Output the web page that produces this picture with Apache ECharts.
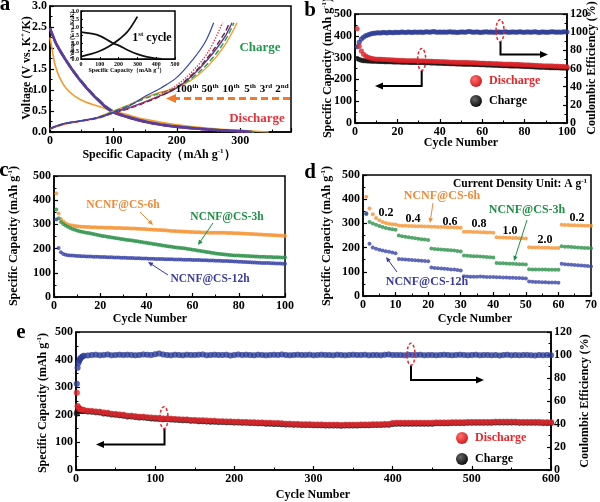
<!DOCTYPE html>
<html><head><meta charset="utf-8">
<script src="https://cdn.jsdelivr.net/npm/echarts@6/dist/echarts.min.js"></script>
<style>html,body{margin:0;padding:0;background:#fff}#c{width:600px;height:502px}</style>
</head><body><div id="c"></div>
<script>
// ---------- Panel a : voltage profiles [capacity, voltage] ----------
const aChg2nd = [[0,0.06],[10,0.12],[25,0.19],[50,0.26],[75,0.35],[100,0.5],[125,0.65],[150,0.82],[175,0.95],[200,1.06],[225,1.26],[250,1.58],[275,2.05],[295,2.6]];
const aChg3rd = [[0,0.07],[10,0.13],[25,0.2],[50,0.27],[75,0.35],[100,0.49],[125,0.64],[150,0.8],[175,0.93],[200,1.06],[225,1.3],[250,1.65],[275,2.15],[290,2.6]];
const aChg5th = [[0,0.08],[10,0.14],[25,0.21],[50,0.27],[75,0.34],[100,0.46],[125,0.58],[150,0.72],[175,0.87],[200,1.05],[225,1.35],[250,1.75],[275,2.25],[287,2.6]];
const aChg10th = [[0,0.08],[10,0.14],[25,0.2],[50,0.26],[75,0.33],[100,0.45],[125,0.56],[150,0.7],[175,0.86],[200,1.06],[225,1.38],[250,1.8],[275,2.35],[283,2.6]];
const aChg50th = [[0,0.08],[10,0.14],[25,0.2],[50,0.26],[75,0.33],[100,0.45],[125,0.57],[150,0.72],[175,0.9],[200,1.12],[225,1.45],[250,1.92],[272,2.6]];
const aChg100th = [[0,0.09],[10,0.15],[25,0.21],[50,0.27],[75,0.34],[100,0.47],[125,0.62],[150,0.85],[175,1.05],[200,1.3],[225,1.72],[245,2.15],[258,2.6]];
const aDis2nd = [[0,2.25],[3,2.0],[8,1.6],[15,1.3],[25,1.05],[40,0.84],[55,0.72],[75,0.62],[100,0.5],[125,0.4],[150,0.3],[200,0.17],[250,0.09],[300,0.04],[345,0.0]];
const aDis3rd = [[0,2.45],[5,2.27],[10,2.1],[24,1.75],[40,1.4],[55,1.12],[75,0.8],[97,0.52],[125,0.36],[150,0.26],[175,0.19],[200,0.14],[250,0.07],[300,0.02],[325,0.0]];
const aDis5th = [[0,2.48],[5,2.28],[10,2.1],[24,1.74],[40,1.38],[55,1.1],[75,0.78],[97,0.5],[125,0.35],[150,0.25],[175,0.18],[200,0.13],[250,0.06],[300,0.02],[318,0.0]];
const aDis10th = [[0,2.47],[5,2.27],[10,2.09],[24,1.73],[40,1.38],[55,1.1],[75,0.78],[97,0.49],[125,0.34],[150,0.24],[175,0.17],[200,0.12],[250,0.06],[295,0.02],[312,0.0]];
const aDis50th = [[0,2.46],[5,2.26],[10,2.08],[24,1.72],[40,1.37],[55,1.09],[75,0.77],[97,0.49],[125,0.34],[150,0.24],[175,0.17],[200,0.12],[250,0.05],[290,0.02],[305,0.0]];
const aDis100th = [[0,2.45],[5,2.25],[10,2.07],[24,1.71],[40,1.36],[55,1.08],[75,0.76],[97,0.48],[125,0.33],[150,0.23],[175,0.16],[200,0.11],[250,0.05],[285,0.02],[300,0.0]];
const inChg1st = [[0,0.15],[50,0.3],[100,0.5],[150,0.8],[200,1.2],[250,1.75],[300,2.65]];
const inDis1st = [[0,1.68],[50,1.6],[100,1.45],[168,1.0],[200,0.85],[250,0.55],[300,0.3],[350,0.13],[400,0.04],[430,0.0]];

// ---------- Panel b : 100 cycles ----------
const bDischarge = [432,352,330,315,307,302,298,296,294,293,
292,292,291,291,290,290,289,289,288,288,
287,287,287,286,286,286,285,285,285,284,
284,284,284,283,283,283,282,282,282,281,
281,281,280,280,279,279,279,278,278,278,
277,277,277,276,276,276,275,275,274,274,
274,273,273,273,272,272,272,271,271,270,
270,270,269,269,268,268,268,267,267,266,
266,266,265,265,264,264,263,263,262,262,
262,261,261,260,260,260,259,259,258,258];
const bCharge = [296,291,288,286,285,284,284,283,283,283,
282,282,282,281,281,281,281,280,280,280,
280,279,279,279,279,278,278,278,277,277,
277,277,276,276,276,275,275,275,274,274,
274,273,273,273,272,272,272,271,271,271,
270,270,270,269,269,268,268,268,267,267,
267,266,266,266,265,265,265,264,264,263,
263,263,262,262,261,261,261,260,260,259,
259,259,258,258,257,257,256,256,256,255,
255,254,254,254,253,253,252,252,252,251];
const bCE = [84,89,92.5,94.5,96,97,97.8,98.4,98.8,99.1,
99.3,99.1,99.5,99.6,99.2,99.8,99.5,99.4,99.9,99.6,
99.7,100.2,99.8,99.5,100.1,99.9,99.6,100.3,100,99.8,
100.2,99.7,100.1,100.4,99.9,100.3,100.6,100.1,99.8,100.2,
100,100.3,99.8,100.1,100.5,99.9,100.2,99.7,100,100.3,
100.1,99.8,100.4,100.6,100.2,99.9,100.1,100.3,99.7,100,
100.2,100.4,99.9,100.1,99.8,100,100.3,100.1,99.9,100.2,
100.4,100,99.8,100.2,100.1,99.9,100.3,100.5,100,99.8,
100.1,100.3,99.9,100.2,100.4,100,99.7,100.1,100.3,100,
99.8,100.2,100.4,100.1,99.9,100.3,100,100.2,100.5,100.1];

// ---------- Panel c : 100 cycles ----------
const c6h = [428,345,322,312,305,300,297,295,293,292,
291,290,290,289,289,288,288,288,287,287,
287,286,286,286,286,285,285,285,285,284,
284,284,283,283,283,282,282,281,281,280,
279,279,278,278,277,277,276,276,275,274,
273,273,272,272,271,271,270,270,269,269,
268,268,268,267,267,267,266,266,266,266,
266,265,265,265,264,264,264,263,263,263,
262,262,261,261,260,260,259,259,258,258,
257,257,256,256,255,255,254,254,253,253];
const c3h = [362,325,310,302,295,290,285,281,278,275,
272,270,268,266,264,262,260,258,256,254,
252,251,249,248,246,245,243,242,240,239,
237,236,234,233,231,230,228,227,225,224,
222,221,219,218,216,215,213,212,210,209,
208,206,205,204,202,201,200,198,197,195,
194,192,191,189,188,186,185,183,182,180,
179,178,177,176,175,174,173,172,171,171,
170,170,169,169,168,168,167,167,166,166,
166,165,165,165,164,164,164,163,163,163];
const c12h = [320,202,185,178,175,173,172,171,170,169,
169,168,168,167,167,167,166,166,166,165,
165,165,164,164,164,163,163,163,162,162,
162,161,161,161,160,160,160,159,159,159,
158,158,158,157,157,157,157,156,156,156,
156,155,155,155,155,154,154,154,154,153,
153,153,153,152,152,152,151,151,151,150,
150,150,149,149,149,148,148,147,147,146,
146,145,145,144,144,143,143,142,142,141,
141,140,140,139,139,138,138,138,137,137];

// ---------- Panel d : rate test, 70 cycles ----------
const d6h = [410,362,338,322,313,306,302,299,297,295,
291,290,290,289,289,288,288,288,287,287,
286,286,285,285,285,284,284,283,283,282,
266,265,265,264,264,263,263,262,262,261,
243,242,242,241,241,240,240,239,239,238,
201,200,200,200,199,199,199,198,198,198,
294,293,293,292,292,291,291,290,290,290];
const d3h = [338,306,300,294,289,285,281,278,276,274,
250,247,245,243,241,239,237,235,233,231,
196,194,193,192,191,190,189,188,186,184,
167,166,165,164,164,163,162,161,160,159,
136,135,135,134,133,133,132,131,131,130,
111,110,110,109,109,109,108,108,108,108,
206,204,203,202,201,200,199,198,198,197];
const d12h = [342,216,200,195,191,188,185,183,180,177,
153,152,151,150,149,148,147,146,145,144,
118,116,115,114,113,112,110,109,107,105,
82,81,80,80,80,81,80,79,79,78,
77,77,76,76,75,75,74,74,73,72,
60,59,58,58,57,57,56,56,56,55,
133,131,130,129,128,127,126,125,124,122];
const dRateLabels = ['0.2','0.4','0.6','0.8','1.0','2.0','0.2'];

// ---------- Panel e : 600 cycles (sampled) ----------
const eCycles = [1,2,3,4,5,6,8,10,
15,20,25,30,35,40,45,50,55,60,65,70,75,80,85,90,95,100,105,110,
115,120,125,130,135,140,145,150,155,160,165,170,175,180,185,190,195,200,205,210,
215,220,225,230,235,240,245,250,255,260,265,270,275,280,285,290,295,300,305,310,
315,320,325,330,335,340,345,350,355,360,365,370,375,380,385,390,395,400,405,410,
415,420,425,430,435,440,445,450,455,460,465,470,475,480,485,490,495,500,505,510,
515,520,525,530,535,540,545,550,555,560,565,570,575,580,585,590,595,600];
const eDischarge = [280,232,226,222,220,219,218,217,
215,214,212,211,208,207,204,203,201,200,
197,197,195,193,193,191,190,189,188,187,
187,186,185,184,183,183,181,181,180,180,
179,178,178,177,177,176,176,175,175,174,
174,173,173,172,172,171,171,170,170,169,
168,168,167,167,166,166,166,165,165,165,
164,164,164,164,163,164,164,164,164,165,
165,165,166,166,166,167,167,170,171,171,
171,171,171,171,171,171,171,171,172,172,
172,172,173,173,173,173,174,174,174,174,
174,174,174,175,175,175,175,175,175,174,
174,174,174,174,174,173,173,173];
const eCharge = [205,214,216,217,216,215,214,214,
212,211,209,208,205,204,201,200,198,197,
194,194,192,190,190,188,187,186,185,184,
184,183,182,181,180,180,178,178,177,177,
176,175,175,174,174,173,173,172,172,171,
171,170,170,169,169,168,168,167,167,166,
165,165,164,164,163,163,163,162,162,162,
161,161,161,161,160,161,161,161,161,162,
162,162,163,163,163,164,164,167,168,168,
168,168,168,168,168,168,168,168,169,169,
169,169,170,170,170,170,171,171,171,171,
171,171,171,172,172,172,172,172,172,171,
171,171,171,171,171,170,170,170];
const eCE = [75,89,93,95,96.5,97.5,98.6,99.3,
99.6,99.9,100.3,99.8,100.1,100.4,99.7,100.0,100.2,99.9,
100.3,100.1,99.8,100.0,100.4,100.2,99.9,100.6,101.2,100.4,
100.0,99.8,100.2,100.1,99.7,100.3,100.0,99.9,100.2,100.5,
99.8,100.1,100.3,99.9,100.0,100.2,99.6,100.1,100.4,99.9,
100.2,100.0,99.8,100.3,100.1,99.7,100.0,100.2,99.9,100.4,
100.1,99.8,100.0,100.3,99.9,100.1,100.2,99.7,100.0,100.3,
99.9,100.1,99.8,100.2,100.0,99.7,100.1,100.3,99.9,100.0,
100.2,99.8,100.1,100.0,99.7,100.2,100.4,99.9,100.0,100.1,
99.8,100.3,100.0,99.9,100.2,99.8,100.1,100.0,99.7,99.9,
100.2,100.0,99.8,100.1,100.3,99.9,99.8,100.0,100.2,99.7,
99.9,100.1,99.8,100.0,99.6,99.9,100.2,99.8,100.0,99.7,
99.9,100.1,99.8,99.6,100.0,99.8,99.9,99.7];

// ---------- styling ----------
const F = "'Liberation Serif','Times New Roman',serif";
const RED = '#e8262a', BLK = '#151515', BLUE = '#2e3f9e';
const ORG = '#f5922f', GRN = '#2a9148', BLU2 = '#3a45a8';

function ax(gridIndex, min, max, interval, o) {
  o = o || {};
  return Object.assign({
    type: 'value', gridIndex, min, max, interval,
    axisLine: {show: true, onZero: false, lineStyle: {color: '#000', width: 1.5}},
    axisTick: {show: true, inside: true, length: 4, lineStyle: {color: '#000', width: 1.2}},
    minorTick: {show: o.minor !== false, splitNumber: 2, length: 2.5, lineStyle: {color: '#000', width: 1}},
    splitLine: {show: false},
    axisLabel: Object.assign({fontFamily: F, fontWeight: 'bold', fontSize: 12, color: '#000', margin: 3, showMaxLabel: true}, o.label || {})
  }, o.extra || {});
}
function grid(l, t, w, h, bg) {
  return {left: l, top: t, width: w, height: h, show: true, borderColor: '#000', borderWidth: 1.5, backgroundColor: bg || 'transparent', containLabel: false};
}
function line(xi, yi, data, color, width, type, z) {
  return {type: 'line', xAxisIndex: xi, yAxisIndex: yi, data, smooth: 0.35, showSymbol: false, symbol: 'none',
    lineStyle: {color, width, type: type || 'solid'}, z: z || 2, animation: false, silent: true};
}
function dots(xi, yi, data, color, size, z, edge) {
  return {type: 'scatter', xAxisIndex: xi, yAxisIndex: yi, data, symbol: 'circle', symbolSize: size,
    itemStyle: {color, borderColor: edge || 'rgba(0,0,0,0.25)', borderWidth: edge ? 0 : 0.4}, z: z || 2, animation: false, silent: true};
}
const idx = arr => arr.map((v, i) => [i + 1, v]);
const withX = (xs, arr) => arr.map((v, i) => [xs[i], v]);

function T(x, y, text, o) {
  o = o || {};
  return {type: 'text', x, y, rotation: o.rot || 0, z: 100, silent: true,
    style: {text, fill: o.color || '#000', fontFamily: F, fontWeight: 'bold', fontSize: o.size || 12,
      align: o.align || 'center', verticalAlign: 'middle', rich: o.rich}};
}
function arrow(pts, color, w, hs, dash) {
  const n = pts.length, x1 = pts[n-2][0], y1 = pts[n-2][1], x2 = pts[n-1][0], y2 = pts[n-1][1];
  const a = Math.atan2(y2 - y1, x2 - x1), c = Math.cos(a), s = Math.sin(a);
  const head = [[x2, y2], [x2 - hs*c + hs*0.45*s, y2 - hs*s - hs*0.45*c], [x2 - hs*c - hs*0.45*s, y2 - hs*s + hs*0.45*c]];
  const lp = pts.slice(0, n-1).concat([[x2 - hs*0.7*c, y2 - hs*0.7*s]]);
  return [
    {type: 'polyline', z: 100, silent: true, shape: {points: lp}, style: {stroke: color, lineWidth: w, fill: null, lineDash: dash || null}},
    {type: 'polygon', z: 100, silent: true, shape: {points: head}, style: {fill: color}}
  ];
}
function ell(cx, cy, rx, ry) {
  return {type: 'ellipse', z: 100, silent: true, shape: {cx, cy, rx, ry}, style: {fill: null, stroke: RED, lineWidth: 1.5, lineDash: [3, 2]}};
}
function ball(cx, cy, r, c1, c2) {
  return {type: 'circle', z: 100, silent: true, shape: {cx, cy, r},
    style: {fill: {type: 'radial', x: 0.38, y: 0.35, r: 0.75, colorStops: [{offset: 0, color: c1}, {offset: 1, color: c2}]}}};
}
function supRich(color, size) {
  return {n: {fontSize: size, fontFamily: F, fontWeight: 'bold', color, lineHeight: size + 2},
          s: {fontSize: Math.round(size * 0.62), fontFamily: F, fontWeight: 'bold', color, verticalAlign: 'top', lineHeight: size + 2}};
}

const fix1 = v => v.toFixed(1);

const option = {
  animation: false,
  backgroundColor: '#fff',
  grid: [
    grid(50, 5, 241, 127),          // a
    grid(81, 11, 94, 48, '#fff'),   // a inset
    grid(355, 14, 212, 109),        // b
    grid(54, 176, 231, 121),        // c
    grid(363, 175, 230, 121),       // d
    grid(76, 332, 475, 138)         // e
  ],
  xAxis: [
    ax(0, 0, 380, 100, {label: {showMaxLabel: false}}),
    ax(1, 0, 500, 100, {minor: false, label: {fontSize: 6, margin: 2}, extra: {axisTick: {inside: true, length: 2, lineStyle: {color: '#000'}}, axisLine: {show: true, onZero: false, lineStyle: {color: '#000', width: 1}}}}),
    ax(2, 0, 100, 20),
    ax(3, 0, 100, 20),
    ax(4, 0, 70, 10),
    ax(5, 0, 600, 100)
  ],
  yAxis: [
    ax(0, 0, 3.0, 0.5, {label: {formatter: fix1}}),
    ax(1, 0, 3.0, 0.5, {minor: false, label: {fontSize: 6, margin: 2, formatter: fix1}, extra: {axisTick: {inside: true, length: 2, lineStyle: {color: '#000'}}, axisLine: {show: true, onZero: false, lineStyle: {color: '#000', width: 1}}}}),
    ax(2, 0, 500, 100),
    ax(2, 0, 120, 20, {extra: {position: 'right'}}),
    ax(3, 0, 500, 100),
    ax(4, 0, 500, 100),
    ax(5, 0, 500, 100),
    ax(5, 0, 120, 20, {extra: {position: 'right'}})
  ],
  series: [
    // panel a discharge
    line(0, 0, aDis2nd, '#f39c2b', 1.6),
    line(0, 0, aDis100th, '#3347b0', 1.6),
    line(0, 0, aDis3rd, '#2f9a4f', 2, 'dashed'),
    line(0, 0, aDis10th, '#6e2436', 2, 'dashed'),
    line(0, 0, aDis50th, '#e23a50', 2, 'dotted'),
    line(0, 0, aDis5th, '#5b3b9e', 2.6),
    // panel a charge
    line(0, 0, aChg2nd, '#f39c2b', 1.4),
    line(0, 0, aChg3rd, '#2f9a4f', 1.4, 'dashed'),
    line(0, 0, aChg5th, '#5b3b9e', 1.4),
    line(0, 0, aChg10th, '#6e2436', 1.4, 'dashed'),
    line(0, 0, aChg50th, '#e23a50', 1.4, 'dotted'),
    line(0, 0, aChg100th, '#3347b0', 1.2),
    // inset
    line(1, 1, inDis1st, '#111', 1.8, 'solid', 5),
    line(1, 1, inChg1st, '#111', 1.8, 'solid', 5),
    // panel b
    dots(2, 3, idx(bCE), BLUE, 5),
    dots(2, 2, idx(bCharge), BLK, 5),
    dots(2, 2, idx(bDischarge), RED, 5),
    // panel c
    dots(3, 4, idx(c6h), ORG, 4, 2, 'none'),
    dots(3, 4, idx(c3h), GRN, 4, 2, 'none'),
    dots(3, 4, idx(c12h), BLU2, 4, 2, 'none'),
    // panel d
    dots(4, 5, idx(d6h), ORG, 4, 2, 'none'),
    dots(4, 5, idx(d3h), GRN, 4, 2, 'none'),
    dots(4, 5, idx(d12h), BLU2, 4, 2, 'none'),
    // panel e
    dots(5, 7, withX(eCycles, eCE), BLUE, 6),
    dots(5, 6, withX(eCycles, eCharge), BLK, 6),
    dots(5, 6, withX(eCycles, eDischarge), RED, 6)
  ],
  graphic: [].concat(
    // panel letters
    [T(5, 5, 'a', {size: 21}), T(310, 11, 'b', {size: 21}), T(4, 171, 'c', {size: 21}),
     T(310, 173, 'd', {size: 21}), T(21, 333, 'e', {size: 21})],
    // panel a texts
    [T(27, 68, 'Voltage (V vs. K{s|+}/K)', {rot: Math.PI/2, size: 12, rich: supRich('#000', 12)}),
     T(159, 155, 'Specific Capacity（mAh g{s|-1}）', {size: 12, rich: supRich('#000', 12)}),
     T(73, 35, 'Voltage (V vs. K{s|+}/K)', {rot: Math.PI/2, size: 5.5, rich: supRich('#000', 5.5)}),
     T(127, 70, 'Specific Capacity（mAh g{s|-1}）', {size: 6, rich: supRich('#000', 6)}),
     T(152, 38, '{n|1}{s|st}{n| cycle}', {rich: supRich('#000', 12)}),
     T(260, 48, 'Charge', {color: '#1f9a4b', size: 13}),
     T(257, 119, 'Discharge', {color: '#e8303a', size: 13}),
     T(187, 89, '{n|100}{s|th}', {rich: supRich('#3a3aa8', 11)}),
     T(210, 89, '{n|50}{s|th}', {rich: supRich('#d02828', 11)}),
     T(231, 89, '{n|10}{s|th}', {rich: supRich('#6a1a1a', 11)}),
     T(250, 89, '{n|5}{s|th}', {rich: supRich('#5a3aa0', 11)}),
     T(266, 89, '{n|3}{s|rd}', {rich: supRich('#2a8a3a', 11)}),
     T(282, 89, '{n|2}{s|nd}', {rich: supRich('#f08a30', 11)})],
    arrow([[290, 98.5], [166, 98.5]], '#f07a2a', 3, 10, [7, 4]),
    // panel b texts
    [T(328, 68, 'Specific Capacity (mAh g{s|-1})', {rot: Math.PI/2, rich: supRich('#000', 12)}),
     T(592, 68, 'Coulombic Efficiency (%)', {rot: Math.PI/2}),
     T(461, 143, 'Cycle Number'),
     ball(476, 81, 6, '#ff7070', '#d01010'), T(489, 81, 'Discharge', {align: 'left', color: '#e8262a'}),
     ball(476, 101, 6, '#666', '#000'), T(489, 101, 'Charge', {align: 'left'}),
     ell(421.7, 59.5, 4, 11), ell(500, 30.7, 4, 11)],
    arrow([[421.7, 71], [421.7, 86], [375, 86]], '#000', 2, 8),
    arrow([[500.5, 42], [500.5, 54.5], [548, 54.5]], '#000', 2, 8),
    // panel c texts
    [T(14, 236, 'Specific Capacity (mAh g{s|-1})', {rot: Math.PI/2, rich: supRich('#000', 12)}),
     T(150, 319, 'Cycle Number'),
     T(123, 205, 'NCNF@CS-6h', {color: '#f08a3a', size: 11.5}),
     T(227, 217, 'NCNF@CS-3h', {color: '#1e8f45', size: 11.5}),
     T(210, 279, 'NCNF@CS-12h', {color: '#3a3aa0', size: 11.5})],
    arrow([[140, 212], [153, 225]], '#f08a3a', 1, 5),
    arrow([[213, 223], [198, 245]], '#1e8f45', 1, 5),
    arrow([[168, 275], [148, 262]], '#3a3aa0', 1, 5),
    // panel d texts
    [T(327, 236, 'Specific Capacity (mAh g{s|-1})', {rot: Math.PI/2, rich: supRich('#000', 12)}),
     T(475, 319, 'Cycle Number'),
     T(520, 184, '{n|Current Density Unit: A g}{s|-1}', {rich: supRich('#1e9a4a', 11.5)}),
     T(442, 196, 'NCNF@CS-6h', {color: '#f08a3a', size: 12}),
     T(527, 210, 'NCNF@CS-3h', {color: '#1e8f45', size: 12}),
     T(427, 282, 'NCNF@CS-12h', {color: '#3a3aa0', size: 12}),
     T(386, 213, dRateLabels[0]), T(413, 219, dRateLabels[1]), T(450, 222, dRateLabels[2]),
     T(479, 224, dRateLabels[3]), T(510, 231, dRateLabels[4]), T(545, 240, dRateLabels[5]),
     T(577, 218, dRateLabels[6])],
    arrow([[433, 203], [430, 223]], '#f08a3a', 1, 5),
    arrow([[527, 220], [514, 261]], '#1e8f45', 1, 5),
    arrow([[397, 272], [386, 257]], '#3a3aa0', 1, 5),
    // panel e texts
    [T(43, 403, 'Specific Capacity (mAh g{s|-1})', {rot: Math.PI/2, rich: supRich('#000', 12)}),
     T(585, 401, 'Coulombic Efficiency (%)', {rot: Math.PI/2}),
     T(313, 495, 'Cycle Number'),
     ball(462, 438, 6, '#ff7070', '#d01010'), T(475, 438, 'Discharge', {align: 'left', color: '#e8262a'}),
     ball(462, 459, 6, '#666', '#000'), T(475, 459, 'Charge', {align: 'left'}),
     ell(164, 417.7, 4, 11), ell(411, 354.3, 4, 11)],
    arrow([[164.5, 429], [164.5, 444.5], [96, 444.5]], '#000', 2, 8),
    arrow([[411, 366], [411, 380], [484, 380]], '#000', 2, 8)
  )
};
const chart = echarts.init(document.getElementById('c'), null, {renderer: 'canvas', width: 600, height: 502});
chart.setOption(option);
</script>
</body></html>
